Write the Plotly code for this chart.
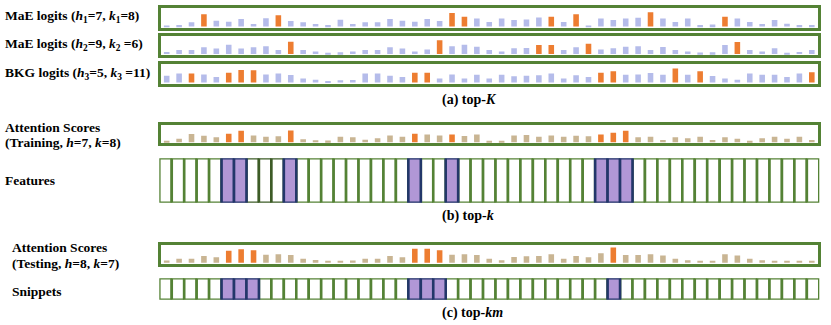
import plotly.graph_objects as go

W, H = 831, 325

n_cells = 53
idx = list(range(1, n_cells + 1))

# bar heights (arbitrary units)
mae1_logits = [3, 5, 13, 38, 18, 15, 23, 8, 26, 35, 17, 13, 8, 5, 21, 8, 13, 13, 23, 18,
               15, 23, 17, 42, 30, 25, 14, 25, 20, 22, 28, 30, 14, 38, 2, 25, 20, 25, 27, 44,
               25, 14, 25, 5, 6, 30, 25, 14, 8, 20, 9, 5, 5]
mae1_top = [4, 10, 24, 25, 32, 34, 40, 46]

mae2_logits = [7, 13, 13, 22, 18, 30, 18, 22, 25, 13, 40, 13, 8, 3, 6, 8, 13, 13, 22, 18,
               8, 15, 45, 25, 30, 24, 13, 8, 19, 20, 29, 29, 13, 22, 33, 15, 19, 24, 25, 13,
               23, 13, 8, 5, 6, 29, 39, 13, 8, 19, 3, 7, 13]
mae2_top = [11, 23, 31, 32, 35, 47]

bkg_logits = [22, 29, 29, 26, 18, 31, 40, 39, 26, 29, 24, 13, 9, 4, 7, 8, 29, 29, 22, 18,
              31, 31, 13, 26, 13, 25, 13, 25, 20, 22, 23, 29, 13, 23, 18, 31, 36, 25, 26, 30,
              25, 45, 25, 36, 21, 13, 9, 29, 25, 25, 18, 29, 33]
bkg_top = [3, 6, 7, 8, 21, 22, 36, 37, 42, 44, 53]

train_scores = [2, 12, 28, 22, 17, 29, 39, 23, 19, 20, 40, 10, 7, 6, 19, 17, 9, 14, 23, 19,
                29, 26, 23, 26, 21, 26, 3, 5, 23, 25, 19, 23, 19, 22, 20, 26, 32, 39, 17, 19,
                8, 17, 14, 19, 8, 17, 12, 5, 14, 19, 12, 19, 8]
train_top = [6, 7, 11, 21, 24, 36, 37, 38]
train_window = [8, 9, 10]

test_scores = [7, 13, 13, 22, 18, 39, 44, 41, 26, 28, 25, 13, 9, 4, 6, 7, 13, 13, 22, 18,
               46, 46, 41, 26, 28, 25, 13, 8, 19, 21, 22, 28, 13, 22, 18, 31, 50, 25, 25, 28,
               24, 13, 8, 4, 6, 28, 24, 13, 8, 4, 3, 4, 3]
test_top = [6, 7, 8, 21, 22, 23, 37]

green = "#548235"
dark_green = "#3d5c27"
lavender = "#b5bcea"
tan = "#c9b593"
orange = "#ed7d31"
purple = "#b197d6"
navy = "#23376a"
font_fam = "Liberation Serif, Times New Roman, serif"


def ydom(top, bottom):
    return [1 - bottom / H, 1 - top / H]


fig = go.Figure()
layout_axes = {}

# (values, top set, base colour, inner box top/bottom in px)
bar_rows = [
    (mae1_logits, mae1_top, lavender, (7.5, 27.5)),
    (mae2_logits, mae2_top, lavender, (35.8, 55.0)),
    (bkg_logits, bkg_top, lavender, (64.0, 83.5)),
    (train_scores, train_top, tan, (124.8, 143.2)),
    (test_scores, test_top, tan, (244.8, 263.6)),
]

ax = 0
for vals, top, col, (t, b) in bar_rows:
    ax += 1
    sfx = "" if ax == 1 else str(ax)
    colors = [orange if i in top else col for i in idx]
    fig.add_trace(go.Bar(x=idx, y=vals, width=0.45, marker_color=colors,
                         marker_line_width=0, xaxis="x" + sfx, yaxis="y" + sfx,
                         showlegend=False, hoverinfo="skip"))
    layout_axes["xaxis" + sfx] = dict(domain=[160.5 / W, 818 / W], range=[0.5, n_cells + 0.5],
                                      anchor="y" + sfx, showline=True, mirror=True,
                                      linecolor=green, linewidth=2.6, showgrid=False,
                                      zeroline=False, showticklabels=False, ticks="")
    layout_axes["yaxis" + sfx] = dict(domain=ydom(t, b), range=[-3, 59], anchor="x" + sfx,
                                      showline=True, mirror=True, linecolor=green,
                                      linewidth=2.6, showgrid=False, zeroline=False,
                                      showticklabels=False, ticks="")

# feature / snippet cells
cell_rows = [
    (train_top, train_window, (158.3, 202.7)),
    (test_top, [], (278.3, 299.7)),
]

for top, window, (t, b) in cell_rows:
    ax += 1
    sfx = str(ax)
    plain = [i for i in idx if i not in top and i not in window]
    for cells, fill, edge in [(plain, "white", green), (window, "white", dark_green),
                              (top, purple, navy)]:
        if not cells:
            continue
        fig.add_trace(go.Bar(x=cells, y=[1] * len(cells), width=1, marker_color=fill,
                             marker_line_color=edge, marker_line_width=2.6,
                             cliponaxis=False, xaxis="x" + sfx, yaxis="y" + sfx,
                             showlegend=False, hoverinfo="skip"))
    layout_axes["xaxis" + sfx] = dict(domain=[159.3 / W, 819.3 / W], range=[0.5, n_cells + 0.5],
                                      anchor="y" + sfx, visible=False)
    layout_axes["yaxis" + sfx] = dict(domain=ydom(t, b), range=[0, 1], anchor="x" + sfx,
                                      visible=False)

labels = [
    ("<b>MaE logits (<i>h</i><sub>1</sub>=7, <i>k</i><sub>1</sub>=8)</b>", 3, 17),
    ("<b>MaE logits (<i>h</i><sub>2</sub>=9, <i>k</i><sub>2</sub> =6)</b>", 3, 45),
    ("<b>BKG logits (<i>h</i><sub>3</sub>=5, <i>k</i><sub>3</sub> =11)</b>", 3, 73),
    ("<b>Attention Scores</b>", 3, 127.5),
    ("<b>(Training, <i>h</i>=7, <i>k</i>=8)</b>", 3, 142),
    ("<b>Features</b>", 3, 180),
    ("<b>Attention Scores</b>", 10, 247),
    ("<b>(Testing, <i>h</i>=8, <i>k</i>=7)</b>", 10, 263),
    ("<b>Snippets</b>", 10, 291),
]
captions = [
    ("<b>(a) top-<i>K</i></b>", 99.5),
    ("<b>(b) top-<i>k</i></b>", 216),
    ("<b>(c) top-<i>km</i></b>", 312.5),
]

annotations = []
for text, x, y in labels:
    annotations.append(dict(text=text, x=x / W, y=1 - y / H, xref="paper", yref="paper",
                            xanchor="left", yanchor="middle", showarrow=False,
                            font=dict(family=font_fam, size=13.5, color="black")))
for text, y in captions:
    annotations.append(dict(text=text, x=440 / W, y=1 - y / H, xref="paper", yref="paper",
                            xanchor="left", yanchor="middle", showarrow=False,
                            font=dict(family=font_fam, size=14, color="black")))

fig.update_layout(width=W, height=H, margin=dict(l=0, r=0, t=0, b=0),
                  paper_bgcolor="white", plot_bgcolor="white", barmode="overlay",
                  annotations=annotations, **layout_axes)

# the page's default body margin would push the figure 8px right and down
fig.write_html("out.html", config={"displayModeBar": False},
               post_script="document.body.style.margin='0';")
